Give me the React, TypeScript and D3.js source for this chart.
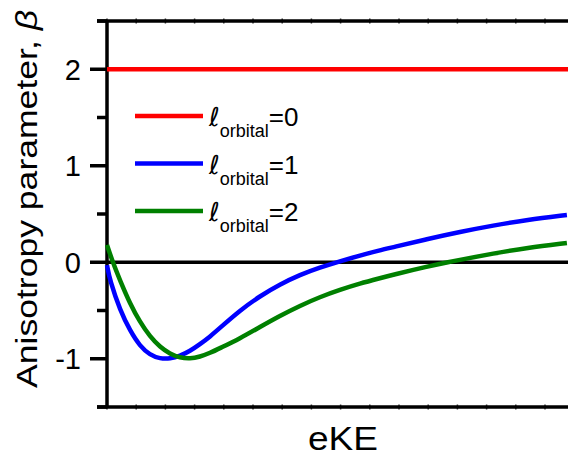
import { useEffect, useRef } from "react";
import * as d3 from "d3";

// x positions are in axis-tick units (eKE, arbitrary)
const blueX = [0, 0.1, 0.45, 0.79, 1.13, 1.47, 1.82, 2.16, 2.5, 2.84, 3.18, 3.53, 3.87, 4.55, 5.24, 5.92, 6.61, 7.29, 7.98, 8.66, 9.35, 9.79, 10.96, 12.09, 13.22, 14.38, 15.75];
const blueY = [-0.03, -0.19, -0.5, -0.71, -0.87, -0.96, -1.0, -1.0, -0.97, -0.92, -0.85, -0.77, -0.68, -0.5, -0.35, -0.23, -0.13, -0.055, 0.01, 0.07, 0.125, 0.155, 0.24, 0.315, 0.38, 0.44, 0.49];

const greenX = [0, 0.21, 0.45, 0.79, 1.13, 1.47, 1.82, 2.16, 2.5, 2.84, 3.18, 3.53, 3.87, 4.55, 5.24, 5.92, 6.61, 7.29, 7.98, 8.66, 9.35, 9.79, 10.96, 11.75, 12.09, 13.22, 14.38, 15.75];
const greenY = [0.18, -0.01, -0.19, -0.43, -0.62, -0.77, -0.88, -0.95, -0.99, -1.0, -0.98, -0.94, -0.89, -0.79, -0.67, -0.555, -0.45, -0.36, -0.285, -0.22, -0.165, -0.13, -0.045, 0.005, 0.025, 0.09, 0.15, 0.2];

const redX = [0, 16];
const redY = [2, 2];

const majorTicks = [-1, 0, 1, 2];
const minorTicks = [-1.5, -0.5, 0.5, 1.5, 2.5];
const xTicks = d3.range(0, 17);

const legendLabels = ["=0", "=1", "=2"];
const legendColors = ["#ff0000", "#0000ff", "#008000"];

const W = 568;
const H = 456;
const left = 107;
const top = 21;
const bottom = 407;

const App = () => {
  const ref = useRef<SVGSVGElement>(null);

  useEffect(() => {
    const svg = d3.select(ref.current);
    svg.selectAll("*").remove();

    const x = d3.scaleLinear().domain([0, 16]).range([left, left + 16 * 29.2]);
    const y = d3.scaleLinear().domain([-1.5, 2.5]).range([bottom, top]);

    const font = "'Liberation Sans', Arial, sans-serif";

    // x ticks (tiny, both sides) on top and bottom
    [top, bottom].forEach((yy) => {
      svg
        .append("g")
        .selectAll("line")
        .data(xTicks)
        .enter()
        .append("line")
        .attr("x1", (d) => x(d))
        .attr("x2", (d) => x(d))
        .attr("y1", yy - 2.5)
        .attr("y2", yy + 2.5)
        .attr("stroke", "#333")
        .attr("stroke-width", 1.5);
    });

    // frame lines
    svg.append("line").attr("x1", left - 10).attr("x2", W).attr("y1", top).attr("y2", top)
      .attr("stroke", "#000").attr("stroke-width", 3.5);
    svg.append("line").attr("x1", left - 10).attr("x2", W).attr("y1", bottom).attr("y2", bottom)
      .attr("stroke", "#000").attr("stroke-width", 3.5);
    svg.append("line").attr("x1", left).attr("x2", left).attr("y1", top).attr("y2", bottom)
      .attr("stroke", "#000").attr("stroke-width", 3.5);

    // zero line
    svg.append("line").attr("x1", left).attr("x2", W).attr("y1", y(0)).attr("y2", y(0))
      .attr("stroke", "#000").attr("stroke-width", 3.5);

    // y ticks
    svg.append("g").selectAll("line").data(majorTicks).enter().append("line")
      .attr("x1", left - 17).attr("x2", left)
      .attr("y1", (d) => y(d)).attr("y2", (d) => y(d))
      .attr("stroke", "#000").attr("stroke-width", 3.5);
    svg.append("g").selectAll("line").data(minorTicks).enter().append("line")
      .attr("x1", left - 10).attr("x2", left)
      .attr("y1", (d) => y(d)).attr("y2", (d) => y(d))
      .attr("stroke", "#000").attr("stroke-width", 3.5);

    svg.append("g").selectAll("text").data(majorTicks).enter().append("text")
      .attr("x", 81)
      .attr("y", (d) => y(d))
      .attr("dy", "0.36em")
      .attr("text-anchor", "end")
      .attr("font-family", font)
      .attr("font-size", 29)
      .text((d) => String(d));

    // curves
    const line = d3.line<[number, number]>()
      .x((d) => x(d[0]))
      .y((d) => y(d[1]))
      .curve(d3.curveBasis);

    const series: [number[], number[], string][] = [
      [redX, redY, legendColors[0]],
      [blueX, blueY, legendColors[1]],
      [greenX, greenY, legendColors[2]],
    ];
    series.forEach(([xs, ys, c]) => {
      const pts = xs.map((v, i) => [v, ys[i]] as [number, number]);
      svg.append("path").attr("d", line(pts)).attr("fill", "none")
        .attr("stroke", c).attr("stroke-width", 4.5);
    });

    // legend
    const leg = svg.append("g");
    legendLabels.forEach((lab, i) => {
      const ly = 116 + i * 47.5;
      leg.append("line").attr("x1", 135).attr("x2", 203).attr("y1", ly).attr("y2", ly)
        .attr("stroke", legendColors[i]).attr("stroke-width", 4.5);
      const t = leg.append("text").attr("x", 209).attr("y", ly + 10)
        .attr("font-family", font).attr("font-size", 26);
      t.append("tspan").attr("font-style", "italic").attr("font-family", "'DejaVu Sans', sans-serif")
        .attr("font-size", 26).text("ℓ");
      t.append("tspan").attr("font-size", 18).attr("dy", 11).attr("dx", 0).text("orbital");
      t.append("tspan").attr("dy", -11).text(lab);
    });

    // axis titles
    svg.append("text")
      .attr("transform", "translate(37,199) rotate(-90)")
      .attr("text-anchor", "middle")
      .attr("font-family", font)
      .attr("font-size", 30)
      .attr("textLength", 378)
      .attr("lengthAdjust", "spacingAndGlyphs")
      .text("Anisotropy parameter, ")
      .append("tspan").attr("font-style", "italic").text("β");

    svg.append("text")
      .attr("x", 343)
      .attr("y", 450)
      .attr("text-anchor", "middle")
      .attr("font-family", font)
      .attr("font-size", 33)
      .attr("textLength", 70)
      .attr("lengthAdjust", "spacingAndGlyphs")
      .text("eKE");
  }, []);

  return (
    <svg
      ref={ref}
      width={W}
      height={H}
      style={{ position: "absolute", left: 0, top: 0, background: "#fff" }}
    />
  );
};

export default App;
